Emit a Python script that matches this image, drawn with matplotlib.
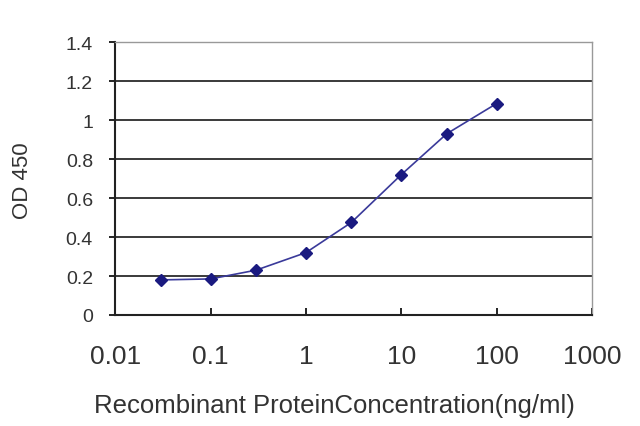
import numpy as np
import matplotlib.pyplot as plt

plt.rcParams['font.family'] = ['Liberation Sans', 'DejaVu Sans']

conc = [0.03, 0.1, 0.3, 1, 3, 10, 30, 100]
od = [0.18, 0.185, 0.23, 0.32, 0.475, 0.72, 0.93, 1.085]
yticks = [0, 0.2, 0.4, 0.6, 0.8, 1, 1.2, 1.4]
ytick_labels = ['0', '0.2', '0.4', '0.6', '0.8', '1', '1.2', '1.4']
xticks = [0.01, 0.1, 1, 10, 100, 1000]
xtick_labels = ['0.01', '0.1', '1', '10', '100', '1000']

fig = plt.figure(figsize=(6.4, 4.27), dpi=100)
ax = fig.add_axes([0.18, 0.26, 0.745, 0.639])

for v in yticks[1:]:
    ax.axhline(v, color='#3a3a3a', lw=1.4, zorder=1)

ax.plot(conc, od, color='#3a3a9a', lw=1.2, marker='D', ms=6,
        markerfacecolor='#1a1a80', markeredgecolor='#1a1a80', zorder=3)

ax.set_xscale('log')
ax.set_xlim(0.01, 1000)
ax.set_ylim(0, 1.4)
ax.set_xticks(xticks)
ax.set_xticklabels(xtick_labels, fontsize=19, color='#333333')
ax.minorticks_off()
ax.set_yticks(yticks)
ax.set_yticklabels(ytick_labels, fontsize=14, color='#333333')
ax.tick_params(axis='x', direction='in', length=5, width=1.2, pad=21)
ax.tick_params(axis='y', direction='out', length=4, width=1.2, pad=12)

for s in ['left', 'bottom']:
    ax.spines[s].set_color('#222222')
    ax.spines[s].set_linewidth(1.5)
for s in ['top', 'right']:
    ax.spines[s].set_color('#999999')
    ax.spines[s].set_linewidth(1.0)

fig.text(334.5 / 640, 1 - 406 / 427, 'Recombinant ProteinConcentration(ng/ml)',
         fontsize=18.5, color='#333333', ha='center', va='center')
fig.text(23 / 640, 1 - 181 / 427, 'OD 450', fontsize=16, color='#333333',
         rotation=90, ha='center', va='center')

fig.savefig('out.png', dpi=100)
